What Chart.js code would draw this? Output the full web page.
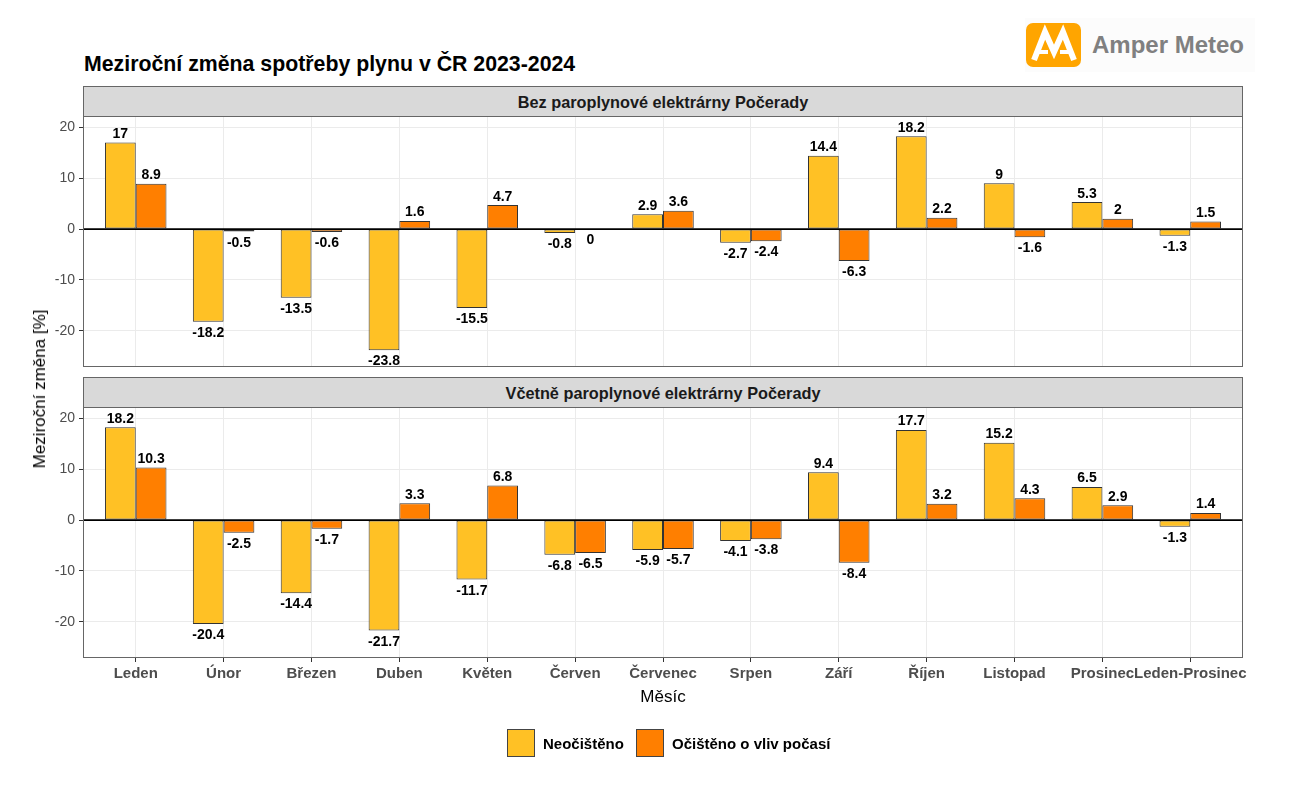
<!DOCTYPE html>
<html>
<head>
<meta charset="utf-8">
<script src="https://cdn.jsdelivr.net/npm/chart.js@4"></script>
<style>
html,body{margin:0;padding:0;background:#fff;width:1300px;height:800px;overflow:hidden;font-family:"Liberation Sans",Arial,sans-serif;}
.abs{position:absolute;}
#title{left:84px;top:54px;font-size:21.3px;font-weight:bold;color:#000;line-height:21px;white-space:nowrap;}
.strip{left:83px;width:1160px;height:31px;box-sizing:border-box;background:#d9d9d9;border:1px solid #666;display:flex;align-items:center;justify-content:center;font-size:16.3px;font-weight:bold;color:#1a1a1a;padding-top:1px;}
#ytitle{left:40px;top:389px;transform:translate(-50%,-50%) rotate(-90deg);font-size:17px;color:#000;white-space:nowrap;}
#xtitle{left:663px;top:697px;transform:translate(-50%,-50%);font-size:17px;color:#000;white-space:nowrap;}
.key{width:28px;height:28px;box-sizing:border-box;border:1px solid #444;top:729px;}
.ltxt{top:743px;transform:translateY(-50%);font-size:15px;font-weight:bold;color:#000;white-space:nowrap;}
#logo{left:1025px;top:18px;width:230px;height:54px;background:#fcfcfc;}
#logoText{left:1092px;top:30px;font-size:24px;font-weight:bold;color:#808080;line-height:30px;white-space:nowrap;}
</style>
</head>
<body>
<div id="logo" class="abs"></div>
<svg class="abs" style="left:1026px;top:23px" width="56" height="45" viewBox="0 0 56 45">
  <rect x="0" y="0" width="55" height="44" rx="7" ry="7" fill="#FFA500"/>
  <polyline points="8,37 19,9 28,29 37,9 48,37" fill="none" stroke="#fff" stroke-width="6" stroke-linejoin="miter"/>
  <line x1="13" y1="29" x2="22" y2="29" stroke="#fff" stroke-width="4"/>
  <line x1="34" y1="29" x2="43" y2="29" stroke="#fff" stroke-width="4"/>
</svg>
<div id="logoText" class="abs">Amper Meteo</div>

<div id="title" class="abs">Meziroční změna spotřeby plynu v ČR 2023-2024</div>

<div class="abs strip" style="top:86px">Bez paroplynové elektrárny Počerady</div>
<div class="abs strip" style="top:377px">Včetně paroplynové elektrárny Počerady</div>

<div class="abs" style="left:0;top:106px;width:1300px;height:261px"><canvas id="c1" width="1300" height="261"></canvas></div>
<div class="abs" style="left:0;top:397px;width:1300px;height:301px"><canvas id="c2" width="1300" height="301"></canvas></div>

<div id="ytitle" class="abs">Meziroční změna [%]</div>
<div id="xtitle" class="abs">Měsíc</div>

<div class="abs key" style="left:507px;background:#FFC125"></div>
<div class="abs ltxt" style="left:543px">Neočištěno</div>
<div class="abs key" style="left:636px;background:#FF7F00"></div>
<div class="abs ltxt" style="left:672px">Očištěno o vliv počasí</div>

<script>
const months = ['Leden','Únor','Březen','Duben','Květen','Červen','Červenec','Srpen','Září','Říjen','Listopad','Prosinec','Leden-Prosinec'];
const seriesNames = ['Neočištěno','Očištěno o vliv počasí'];
const bezRaw = [17,-18.2,-13.5,-23.8,-15.5,-0.8,2.9,-2.7,14.4,18.2,9,5.3,-1.3];
const bezAdj = [8.9,-0.5,-0.6,1.6,4.7,0,3.6,-2.4,-6.3,2.2,-1.6,2,1.5];
const vcRaw = [18.2,-20.4,-14.4,-21.7,-11.7,-6.8,-5.9,-4.1,9.4,17.7,15.2,6.5,-1.3];
const vcAdj = [10.3,-2.5,-1.7,3.3,6.8,-6.5,-5.7,-3.8,-8.4,3.2,4.3,2.9,1.4];
const yTicks = [-20,-10,0,10,20];

const FONT = '"Liberation Sans", Arial, sans-serif';
Chart.defaults.font.family = FONT;
Chart.defaults.animation = false;

const COL_RAW = '#FFC125';
const COL_ADJ = '#FF7F00';

const panelDecor = {
  id: 'panelDecor',
  afterDatasetsDraw(chart) {
    const ctx = chart.ctx, a = chart.chartArea, y = chart.scales.y;
    ctx.save();
    const y0 = y.getPixelForValue(0);
    ctx.strokeStyle = '#000';
    ctx.lineWidth = 1.7;
    ctx.beginPath(); ctx.moveTo(a.left, y0); ctx.lineTo(a.right, y0); ctx.stroke();
    ctx.font = 'bold 14px ' + FONT;
    ctx.fillStyle = '#000';
    ctx.textAlign = 'center';
    ctx.textBaseline = 'alphabetic';
    chart.data.datasets.forEach((ds, di) => {
      const meta = chart.getDatasetMeta(di);
      meta.data.forEach((bar, i) => {
        const v = ds.data[i].y;
        const txt = String(v);
        if (v > 0) ctx.fillText(txt, bar.x, bar.y - 4.5);
        else ctx.fillText(txt, bar.x, bar.y + 15);
      });
    });
    ctx.strokeStyle = '#666';
    ctx.lineWidth = 1;
    ctx.strokeRect(Math.round(a.left) + 0.5, Math.round(a.top) + 0.5, Math.round(a.right - a.left) - 1, Math.round(a.bottom - a.top) - 1);
    ctx.restore();
  }
};

function makeChart(id, raw, adj, showX) {
  const toPts = arr => arr.map((v, i) => ({x: i + 1, y: v}));
  return new Chart(document.getElementById(id), {
    type: 'bar',
    data: {
      datasets: [
        {label: seriesNames[0], data: toPts(raw), backgroundColor: COL_RAW, borderColor: '#333', borderWidth: 1, borderSkipped: false, categoryPercentage: 0.7, barPercentage: 1},
        {label: seriesNames[1], data: toPts(adj), backgroundColor: COL_ADJ, borderColor: '#333', borderWidth: 1, borderSkipped: false, categoryPercentage: 0.7, barPercentage: 1}
      ]
    },
    options: {
      responsive: false,
      devicePixelRatio: 1,
      animation: false,
      layout: {padding: {left: 0, right: 57, top: 10, bottom: 0}},
      plugins: {legend: {display: false}, tooltip: {enabled: false}},
      scales: {
        x: {
          type: 'linear',
          offset: false,
          min: 0.4,
          max: 13.6,
          afterBuildTicks: s => { s.ticks = months.map((m, i) => ({value: i + 1})); },
          afterFit: s => { s.height = showX ? 40 : 0; s.paddingLeft = 0; s.paddingRight = 0; },
          border: {display: false},
          grid: {offset: false, color: '#ebebeb', lineWidth: 1, drawTicks: showX, tickLength: 4, tickColor: '#333', tickWidth: 1},
          ticks: {
            display: showX,
            autoSkip: false,
            minRotation: 0,
            maxRotation: 0,
            padding: 3,
            color: '#4d4d4d',
            font: {size: 15, weight: 'bold'},
            callback: v => months[v - 1]
          }
        },
        y: {
          min: -27.1,
          max: 22.2,
          afterBuildTicks: s => { s.ticks = yTicks.map(v => ({value: v})); },
          afterFit: s => { s.width = 83; s.paddingTop = 0; s.paddingBottom = 0; },
          border: {display: false},
          grid: {color: '#ebebeb', lineWidth: 1, drawTicks: true, tickLength: 4, tickColor: '#333', tickWidth: 1},
          ticks: {
            padding: 4,
            color: '#4d4d4d',
            font: {size: 14},
            callback: v => String(v)
          }
        }
      }
    },
    plugins: [panelDecor]
  });
}

makeChart('c1', bezRaw, bezAdj, false);
makeChart('c2', vcRaw, vcAdj, true);
</script>
</body>
</html>
